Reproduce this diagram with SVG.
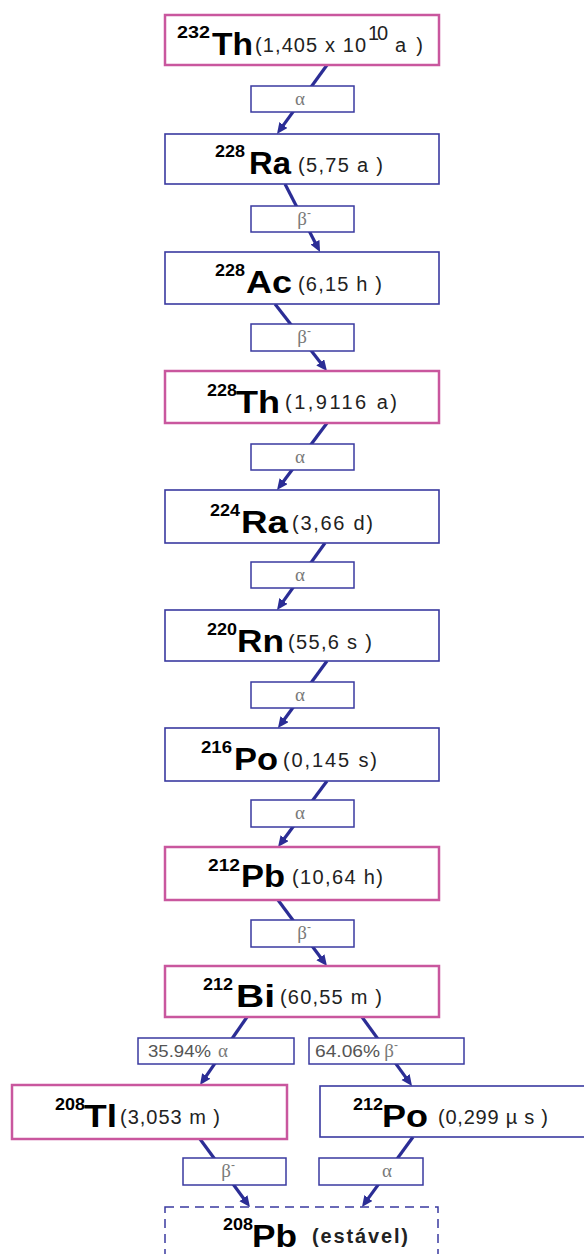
<svg xmlns="http://www.w3.org/2000/svg" width="584" height="1254" viewBox="0 0 584 1254">
<style>
.pk{fill:#fff;stroke:#c9579e;stroke-width:2.5}
.bl{fill:#fff;stroke:#3a3aa0;stroke-width:1.6}
.lb{fill:#fff;stroke:#3a3aa0;stroke-width:1.5}
.ar{stroke:#2b2d95;stroke-width:3.2;fill:none;marker-end:url(#ah)}
.sym{font-family:"Liberation Sans",Arial,sans-serif;font-weight:bold;font-size:32px;fill:#000}
.sup{font-family:"Liberation Sans",Arial,sans-serif;font-weight:bold;font-size:17px;fill:#000}
.hl{font-family:"Liberation Sans",Arial,sans-serif;font-size:20px;fill:#222}
.gr{font-family:"Liberation Serif","Times New Roman",serif;font-size:19px;fill:#7a7a7a}
.grs{font-family:"Liberation Sans",Arial,sans-serif;font-size:12px;fill:#7a7a7a}
.pc{font-family:"Liberation Sans",Arial,sans-serif;font-size:16px;fill:#555}
</style>
<defs>
<marker id="ah" markerUnits="userSpaceOnUse" markerWidth="12" markerHeight="11" refX="5" refY="5" orient="auto">
<path d="M0,0 L11,5 L0,10 z" fill="#2b2d95"/>
</marker>
</defs>
<rect width="584" height="1254" fill="#fff"/>
<g id="connectors">
<path class="ar" d="M327,65 L280.5,129.1"/>
<path class="ar" d="M285,184 L317.3,246.7"/>
<path class="ar" d="M275,304 L323.3,366.3"/>
<path class="ar" d="M327,423 L280.6,485.2"/>
<path class="ar" d="M325,543 L280.5,605.1"/>
<path class="ar" d="M327,661 L281.5,723.2"/>
<path class="ar" d="M327,781 L281.6,842.2"/>
<path class="ar" d="M278,900 L323.4,961.2"/>
<path class="ar" d="M247,1017 L203.4,1080.1"/>
<path class="ar" d="M362,1017 L408.5,1081.1"/>
<path class="ar" d="M200,1139 L246.4,1202.2"/>
<path class="ar" d="M413,1137 L365.5,1202.1"/>
<rect class="lb" x="251" y="86" width="103" height="26"/>
<text class="gr" x="300" y="105" text-anchor="middle">α</text>
<rect class="lb" x="251" y="206" width="103" height="26"/>
<text class="gr" x="302" y="225" text-anchor="middle">β</text><text class="grs" x="307" y="217">-</text>
<rect class="lb" x="251" y="324" width="103" height="27"/>
<text class="gr" x="302" y="343" text-anchor="middle">β</text><text class="grs" x="307" y="335">-</text>
<rect class="lb" x="251" y="444" width="103" height="26"/>
<text class="gr" x="300" y="463" text-anchor="middle">α</text>
<rect class="lb" x="251" y="562" width="103" height="26"/>
<text class="gr" x="300" y="581" text-anchor="middle">α</text>
<rect class="lb" x="251" y="682" width="103" height="26"/>
<text class="gr" x="300" y="701" text-anchor="middle">α</text>
<rect class="lb" x="251" y="800" width="103" height="27"/>
<text class="gr" x="300" y="819" text-anchor="middle">α</text>
<rect class="lb" x="251" y="920" width="103" height="27"/>
<text class="gr" x="302" y="939" text-anchor="middle">β</text><text class="grs" x="307" y="931">-</text>
<rect class="lb" x="138" y="1038" width="156" height="26"/>
<text class="pc" x="148" y="1057" textLength="63" lengthAdjust="spacingAndGlyphs">35.94%</text><text class="gr" x="223" y="1057" text-anchor="middle">α</text>
<rect class="lb" x="309" y="1038" width="155" height="26"/>
<text class="pc" x="315" y="1057" textLength="65" lengthAdjust="spacingAndGlyphs">64.06%</text><text class="gr" x="389" y="1057" text-anchor="middle">β</text><text class="grs" x="394" y="1049">-</text>
<rect class="lb" x="183" y="1158" width="103" height="27"/>
<text class="gr" x="226" y="1177" text-anchor="middle">β</text><text class="grs" x="231" y="1169">-</text>
<rect class="lb" x="319" y="1158" width="104" height="27"/>
<text class="gr" x="387" y="1177" text-anchor="middle">α</text>
</g>
<g id="th232">
<rect class="pk" x="165" y="15" width="274" height="50"/>
<text class="sup" x="177" y="38" textLength="33" lengthAdjust="spacingAndGlyphs">232</text>
<text class="sym" x="212" y="55" textLength="41" lengthAdjust="spacingAndGlyphs">Th</text>
<text class="hl" x="255" y="52" textLength="111" lengthAdjust="spacing">(1,405 x 10</text>
<text class="hl" x="368" y="40" font-size="14" textLength="20" lengthAdjust="spacing">10</text>
<text class="hl" x="395" y="52" textLength="28" lengthAdjust="spacing">a )</text>
</g>
<g id="ra228">
<rect class="bl" x="165" y="134" width="274" height="50"/>
<text class="sup" x="215" y="157" textLength="30" lengthAdjust="spacingAndGlyphs">228</text>
<text class="sym" x="249" y="174" textLength="42" lengthAdjust="spacingAndGlyphs">Ra</text>
<text class="hl" x="298" y="172" textLength="85" lengthAdjust="spacing">(5,75 a )</text>
</g>
<g id="ac228">
<rect class="bl" x="165" y="252" width="274" height="52"/>
<text class="sup" x="215" y="276" textLength="30" lengthAdjust="spacingAndGlyphs">228</text>
<text class="sym" x="246" y="293" textLength="46" lengthAdjust="spacingAndGlyphs">Ac</text>
<text class="hl" x="298" y="291" textLength="84" lengthAdjust="spacing">(6,15 h )</text>
</g>
<g id="th228">
<rect class="pk" x="165" y="371" width="274" height="52"/>
<text class="sup" x="207" y="396" textLength="30" lengthAdjust="spacingAndGlyphs">228</text>
<text class="sym" x="236" y="413" textLength="44" lengthAdjust="spacingAndGlyphs">Th</text>
<text class="hl" x="285" y="409" textLength="112" lengthAdjust="spacing">(1,9116  a)</text>
</g>
<g id="ra224">
<rect class="bl" x="165" y="490" width="274" height="53"/>
<text class="sup" x="210" y="516" textLength="30" lengthAdjust="spacingAndGlyphs">224</text>
<text class="sym" x="241" y="533" textLength="47" lengthAdjust="spacingAndGlyphs">Ra</text>
<text class="hl" x="292" y="530" textLength="81" lengthAdjust="spacing">(3,66 d)</text>
</g>
<g id="rn220">
<rect class="bl" x="165" y="610" width="274" height="51"/>
<text class="sup" x="207" y="635" textLength="30" lengthAdjust="spacingAndGlyphs">220</text>
<text class="sym" x="237" y="652" textLength="47" lengthAdjust="spacingAndGlyphs">Rn</text>
<text class="hl" x="288" y="649" textLength="84" lengthAdjust="spacing">(55,6 s )</text>
</g>
<g id="po216">
<rect class="bl" x="165" y="728" width="274" height="53"/>
<text class="sup" x="201" y="753" textLength="31" lengthAdjust="spacingAndGlyphs">216</text>
<text class="sym" x="234" y="770" textLength="44" lengthAdjust="spacingAndGlyphs">Po</text>
<text class="hl" x="283" y="767" textLength="94" lengthAdjust="spacing">(0,145 s)</text>
</g>
<g id="pb212">
<rect class="pk" x="165" y="847" width="274" height="53"/>
<text class="sup" x="208" y="871" textLength="32" lengthAdjust="spacingAndGlyphs">212</text>
<text class="sym" x="241" y="887" textLength="44" lengthAdjust="spacingAndGlyphs">Pb</text>
<text class="hl" x="292" y="884" textLength="91" lengthAdjust="spacing">(10,64 h)</text>
</g>
<g id="bi212">
<rect class="pk" x="165" y="966" width="274" height="51"/>
<text class="sup" x="203" y="990" textLength="30" lengthAdjust="spacingAndGlyphs">212</text>
<text class="sym" x="236" y="1007" textLength="39" lengthAdjust="spacingAndGlyphs">Bi</text>
<text class="hl" x="280" y="1004" textLength="102" lengthAdjust="spacing">(60,55 m )</text>
</g>
<g id="tl208">
<rect class="pk" x="12" y="1085" width="275" height="54"/>
<text class="sup" x="55" y="1110" textLength="30" lengthAdjust="spacingAndGlyphs">208</text>
<text class="sym" x="84" y="1127" textLength="33" lengthAdjust="spacingAndGlyphs">Tl</text>
<text class="hl" x="120" y="1124" textLength="100" lengthAdjust="spacing">(3,053 m )</text>
</g>
<g id="po212">
<rect class="bl" x="320" y="1086" width="280" height="51"/>
<text class="sup" x="353" y="1110" textLength="30" lengthAdjust="spacingAndGlyphs">212</text>
<text class="sym" x="382" y="1127" textLength="46" lengthAdjust="spacingAndGlyphs">Po</text>
<text class="hl" x="438" y="1124" textLength="110" lengthAdjust="spacing">(0,299 µ s )</text>
</g>
<g id="pb208">
<rect x="165" y="1207" width="273" height="60" fill="#fff" stroke="#3a3aa0" stroke-width="1.5" stroke-dasharray="9,6"/>
<text class="sup" x="223" y="1230" textLength="30" lengthAdjust="spacingAndGlyphs">208</text>
<text class="sym" x="252" y="1247" textLength="45" lengthAdjust="spacingAndGlyphs">Pb</text>
<text class="hl" x="312" y="1243" font-weight="bold" textLength="96" lengthAdjust="spacing">(estável)</text>
</g>
</svg>
